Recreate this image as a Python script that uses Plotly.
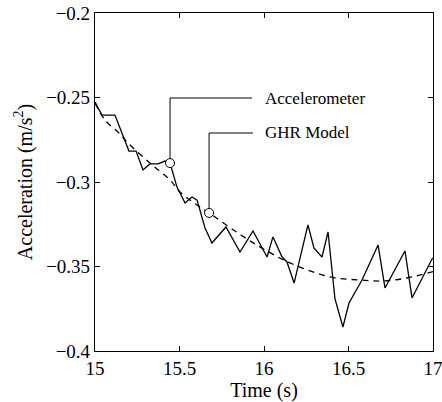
import plotly.graph_objects as go

# Accelerometer measurement (solid)
acc_t = [15.000, 15.041, 15.118, 15.201, 15.243, 15.284, 15.325, 15.373, 15.414, 15.444,
         15.485, 15.533, 15.574, 15.604, 15.651, 15.692, 15.775, 15.858, 15.935, 16.018,
         16.053, 16.107, 16.136, 16.178, 16.260, 16.296, 16.343, 16.379, 16.420, 16.467,
         16.503, 16.580, 16.675, 16.716, 16.834, 16.876, 16.994, 17.000]
acc_a = [-0.2527, -0.2604, -0.2604, -0.2817, -0.2817, -0.2929, -0.2893, -0.2893, -0.2876, -0.2888,
         -0.3030, -0.3124, -0.3089, -0.3107, -0.3272, -0.3361, -0.3266, -0.3414, -0.3290, -0.3444,
         -0.3325, -0.3444, -0.3473, -0.3598, -0.3254, -0.3391, -0.3444, -0.3296, -0.3692, -0.3858,
         -0.3716, -0.3580, -0.3373, -0.3627, -0.3408, -0.3686, -0.3456, -0.3450]

# GHR model (dashed)
ghr_t = [15.000, 15.059, 15.148, 15.189, 15.325, 15.444, 15.503, 15.621, 15.675, 15.846,
         15.988, 16.154, 16.391, 16.568, 16.704, 16.846, 17.000]
ghr_a = [-0.2533, -0.2633, -0.2716, -0.2763, -0.2888, -0.2988, -0.3059, -0.3148, -0.3183, -0.3302,
         -0.3391, -0.3479, -0.3562, -0.3580, -0.3586, -0.3568, -0.3530]

# Callouts: marker point, elbow height, end of leader, label
labels = ["Accelerometer", "GHR Model"]
call_t = [15.444, 15.675]
call_a = [-0.2888, -0.3183]
elbow_a = [-0.2503, -0.2710]
leader_end_t = [15.929, 15.935]
label_t = 15.994

x_ticks = [15, 15.5, 16, 16.5, 17]
x_ticktext = ["15", "15.5", "16", "16.5", "17"]
y_ticks = [-0.4, -0.35, -0.3, -0.25, -0.2]
y_ticktext = ["\u22120.4", "\u22120.35", "\u22120.3", "\u22120.25", "\u22120.2"]

FONT = "Liberation Serif"

fig = go.Figure()
fig.add_trace(go.Scatter(x=acc_t, y=acc_a, mode="lines",
                         line=dict(color="black", width=1.3), showlegend=False))
fig.add_trace(go.Scatter(x=ghr_t, y=ghr_a, mode="lines",
                         line=dict(color="black", width=1.3, dash="6px,5px"),
                         line_shape="spline", showlegend=False))

for i in range(len(labels)):
    fig.add_trace(go.Scatter(
        x=[call_t[i], call_t[i], leader_end_t[i]],
        y=[call_a[i], elbow_a[i], elbow_a[i]],
        mode="lines", line=dict(color="black", width=1), showlegend=False))
    fig.add_annotation(x=label_t, y=elbow_a[i], text=labels[i], showarrow=False,
                       xanchor="left", yanchor="middle",
                       font=dict(family=FONT, size=17, color="black"))

fig.add_trace(go.Scatter(x=call_t, y=call_a, mode="markers",
                         marker=dict(symbol="circle", size=9, color="white",
                                     line=dict(color="black", width=1)),
                         showlegend=False))

axis_common = dict(showgrid=False, zeroline=False, showline=True, linecolor="black",
                   linewidth=1.2, mirror="ticks", ticks="inside", ticklen=5,
                   tickcolor="black", tickwidth=1, automargin=False,
                   ticklabeloverflow="allow",
                   tickfont=dict(family=FONT, size=19, color="black"))

fig.update_xaxes(range=[15, 17], tickvals=x_ticks, ticktext=x_ticktext,
                 title=dict(text="Time (s)", font=dict(family=FONT, size=20, color="black"),
                            standoff=2),
                 **axis_common)
fig.update_yaxes(range=[-0.4, -0.2], tickvals=y_ticks, ticktext=y_ticktext,
                 title=dict(text="Acceleration (m/s<sup>2</sup>)",
                            font=dict(family=FONT, size=20, color="black"), standoff=8),
                 **axis_common)

fig.update_layout(width=442, height=402, margin=dict(l=95, r=9, t=13, b=51),
                  paper_bgcolor="white", plot_bgcolor="white")

fig.write_html("out.html")
